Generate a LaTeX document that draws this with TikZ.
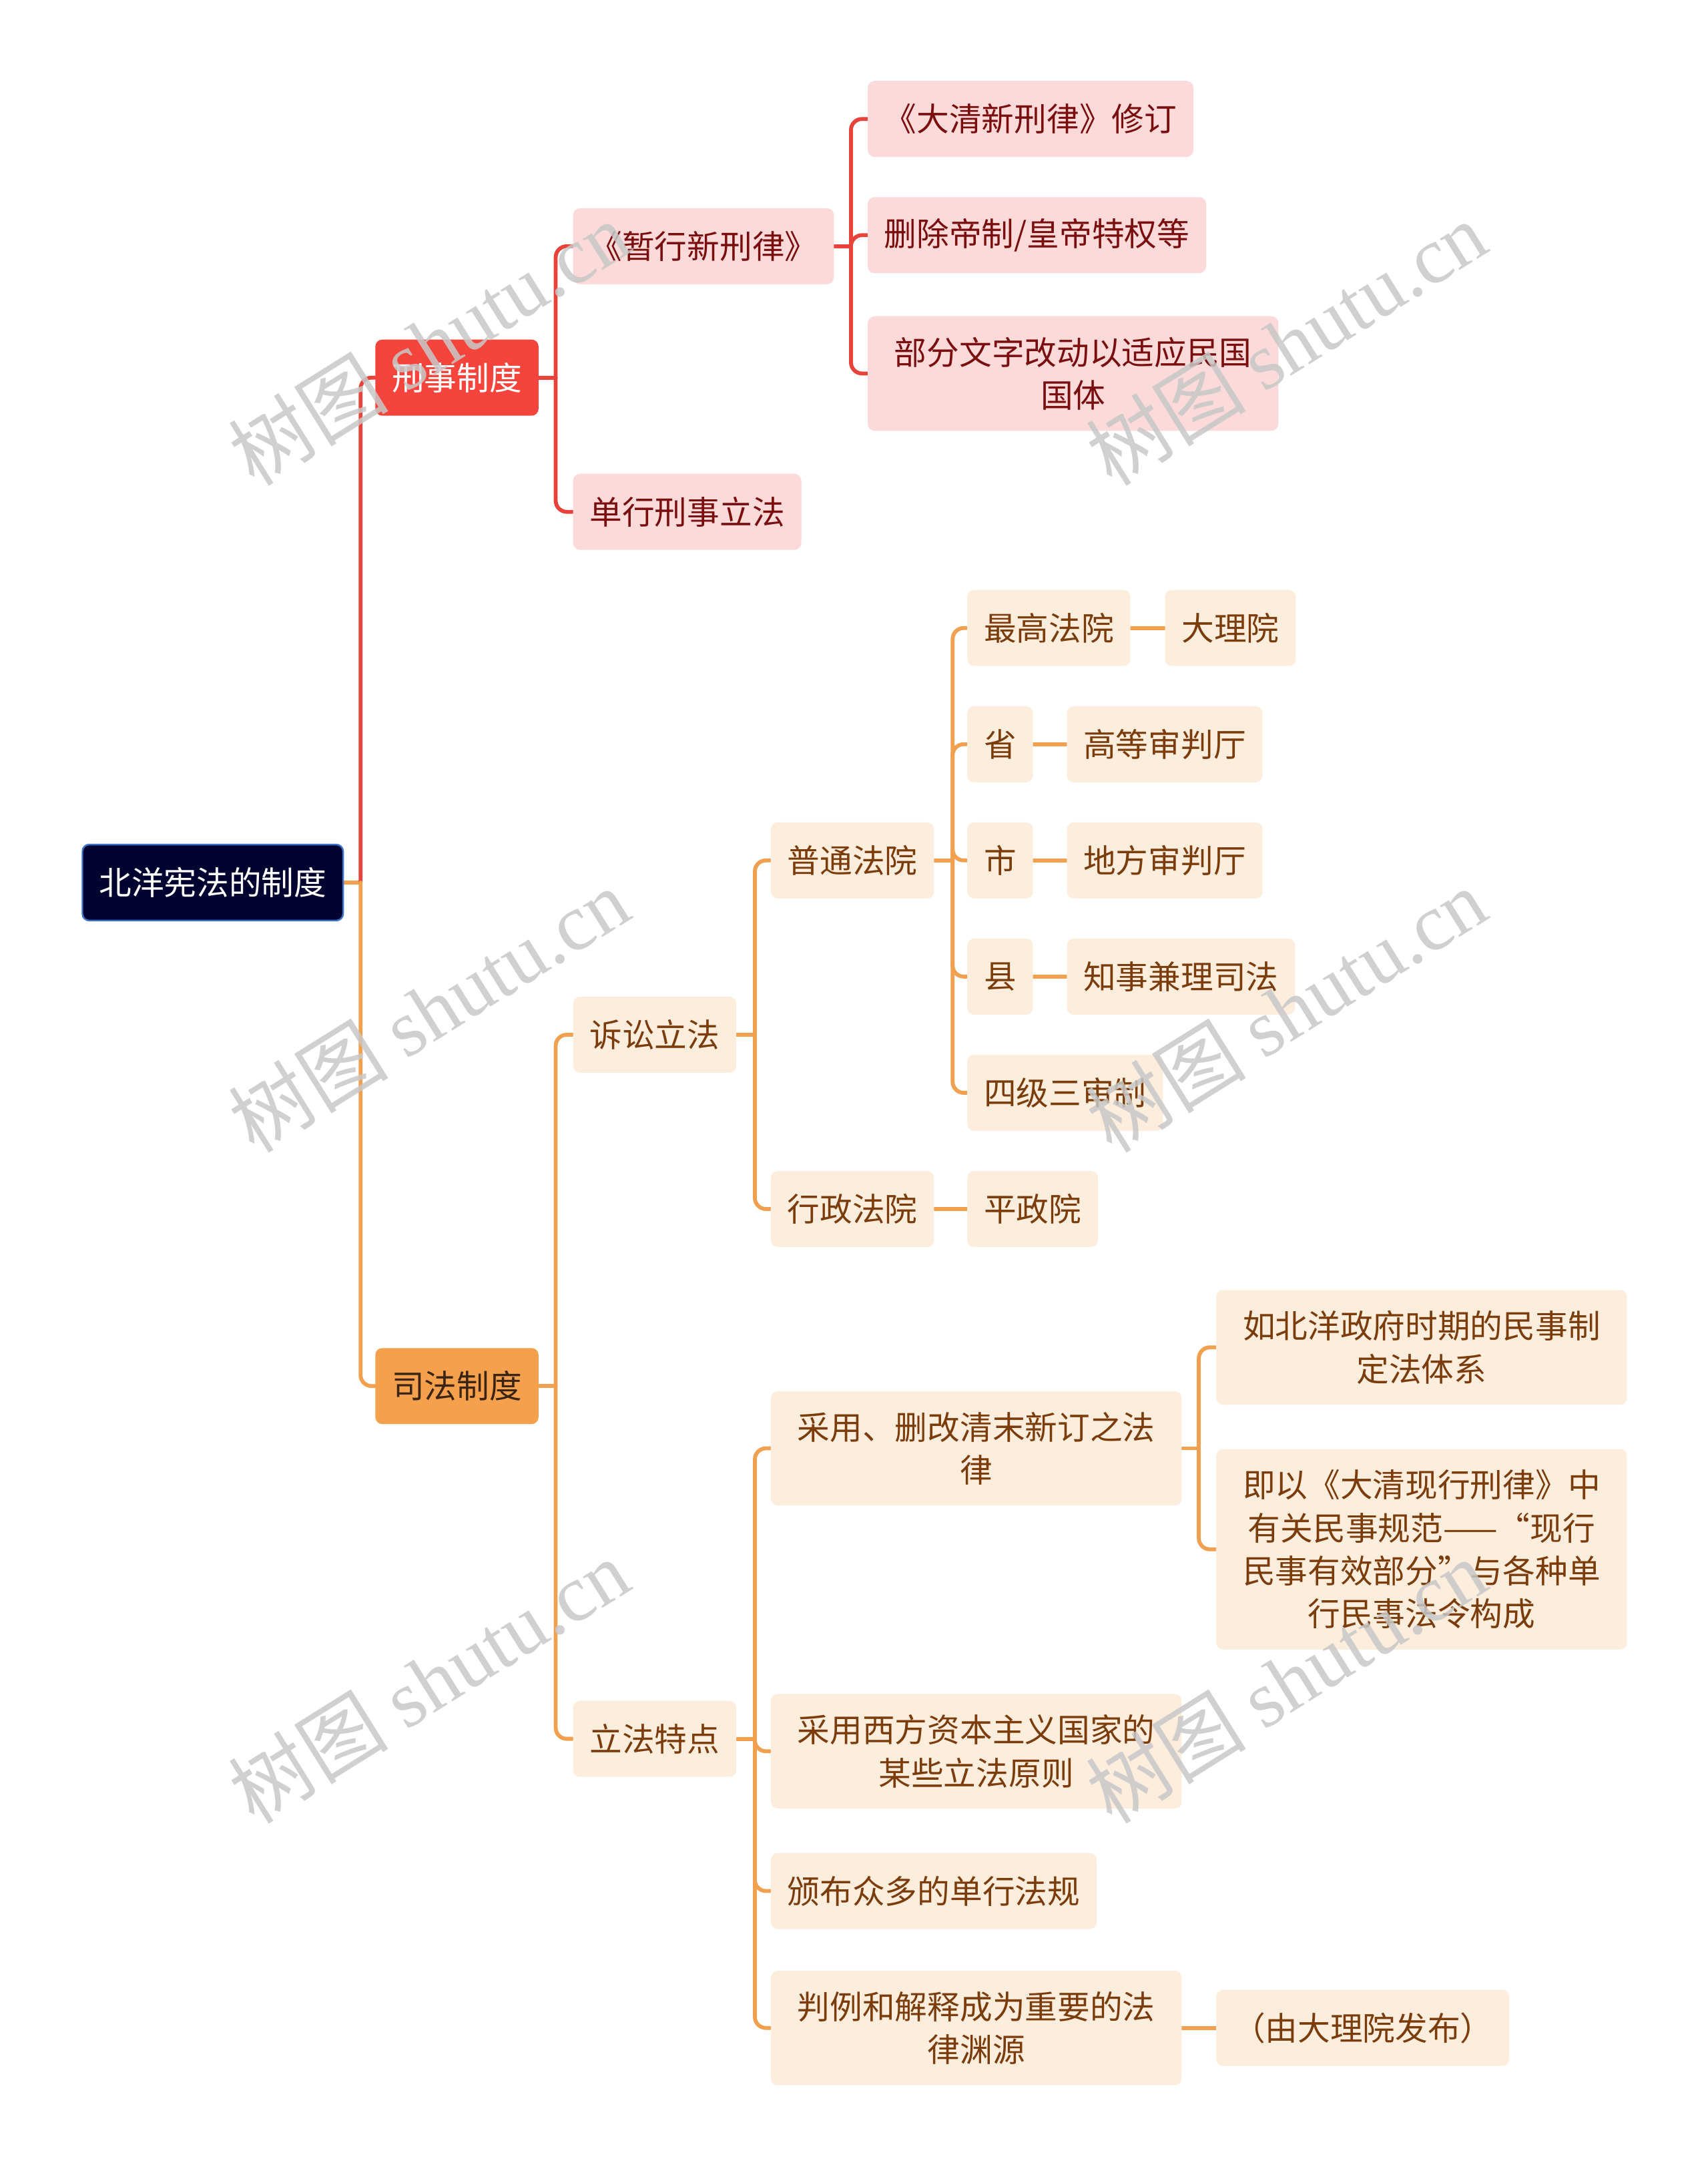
\documentclass[tikz,border=0pt]{standalone}
\usepackage{fontspec}
\setmainfont{Noto Sans CJK SC}
\newfontfamily\wmserif{Liberation Serif}
\usetikzlibrary{backgrounds}
\definecolor{rootfill}{HTML}{020230}
\definecolor{rootborder}{HTML}{3F72C6}
\definecolor{redmain}{HTML}{F5443B}
\definecolor{redline}{HTML}{E8433B}
\definecolor{redlight}{HTML}{FDDADA}
\definecolor{redtext}{HTML}{7A0E0E}
\definecolor{orgmain}{HTML}{F5A04D}
\definecolor{orgline}{HTML}{F0A04E}
\definecolor{orglight}{HTML}{FDEDDD}
\definecolor{orgtext}{HTML}{7B3C0B}
\definecolor{sifatext}{HTML}{3A2515}
\definecolor{wmgray}{HTML}{C8C8C8}
\tikzset{
  box/.style={anchor=west, rounded corners=2.5pt, inner xsep=6pt, inner ysep=7.5pt,
    minimum height=27.5pt, font=\fontsize{11.75}{15.5}\selectfont, align=center},
  wd/.style={minimum width=#1*0.5pt},
  tw/.style={text width=#1*0.5pt},
  rootbox/.style={box, fill=rootfill, draw=rootborder, line width=0.6pt, text=white},
  redbig/.style={box, fill=redmain, text=white},
  orgbig/.style={box, fill=orgmain, text=sifatext},
  redsub/.style={box, fill=redlight, text=redtext},
  orgsub/.style={box, fill=orglight, text=orgtext},
  conn/.style={line width=1.4pt, rounded corners=4pt, line cap=round},
  rl/.style={conn, draw=redline},
  ol/.style={conn, draw=orgline},
  wm/.style={text=wmgray, opacity=0.85, font=\fontsize{29}{30}\selectfont, rotate=32}
}
\begin{document}
\begin{tikzpicture}[x=0.5pt, y=-0.5pt]
\useasboundingbox (0,0) rectangle (1235,1568);

% nodes
\node[rootbox, wd=187] (root) at (59,638) {北洋宪法的制度};
\node[redbig, wd=118] (xs) at (271,273) {刑事制度};
\node[orgbig, wd=118] (sf) at (271,1002) {司法制度};

\node[redsub, wd=188] (zx) at (414,178) {《暂行新刑律》};
\node[redsub] (dx) at (414,370) {单行刑事立法};
\node[redsub] (dq) at (627,86) {《大清新刑律》修订};
\node[redsub] (sc) at (627,170) {删除帝制/皇帝特权等};
\node[redsub, tw=273] (bf) at (627,270) {部分文字改动以适应民国\\国体};

\node[orgsub] (ss) at (414,748) {诉讼立法};
\node[orgsub] (lf) at (414,1257) {立法特点};
\node[orgsub] (pt) at (557,622) {普通法院};
\node[orgsub] (xz) at (557,874) {行政法院};
\node[orgsub] (zg) at (699,454) {最高法院};
\node[orgsub] (dl) at (842,454) {大理院};
\node[orgsub] (sheng) at (699,538) {省};
\node[orgsub] (gd) at (771,538) {高等审判厅};
\node[orgsub] (shi) at (699,622) {市};
\node[orgsub] (df) at (771,622) {地方审判厅};
\node[orgsub] (xian) at (699,706) {县};
\node[orgsub] (zs) at (771,706) {知事兼理司法};
\node[orgsub] (sj) at (699,790) {四级三审制};
\node[orgsub] (pz) at (699,874) {平政院};

\node[orgsub, tw=273] (cy) at (557,1047) {采用、删改清末新订之法\\律};
\node[orgsub, tw=273] (bb) at (879,974) {如北洋政府时期的民事制\\定法体系};
\node[orgsub, tw=273] (jy) at (879,1120) {即以《大清现行刑律》中\\有关民事规范——“现行\\民事有效部分”与各种单\\行民事法令构成};
\node[orgsub, tw=273] (xf) at (557,1266) {采用西方资本主义国家的\\某些立法原则};
\node[orgsub] (bbz) at (557,1367) {颁布众多的单行法规};
\node[orgsub, tw=273] (pl) at (557,1466) {判例和解释成为重要的法\\律渊源};
\node[orgsub, wd=210] (yd) at (879,1466) {（由大理院发布）};

% connectors
\begin{scope}[on background layer]
\fill[white] (0,0) rectangle (1235,1568);
\path (root.east) ++(12,0) coordinate (jroot);
\draw[ol] (root.east) -- (jroot);
\draw[rl] (jroot) |- (xs.west);
\draw[ol] (jroot) |- (sf.west);

\path (xs.east) ++(12,0) coordinate (jxs);
\draw[rl] (xs.east) -- (jxs);
\draw[rl] (jxs) |- (zx.west);
\draw[rl] (jxs) |- (dx.west);

\path (zx.east) ++(12,0) coordinate (jzx);
\draw[rl] (zx.east) -- (jzx);
\draw[rl] (jzx) |- (dq.west);
\draw[rl] (jzx) |- (sc.west);
\draw[rl] (jzx) |- (bf.west);

\path (sf.east) ++(12,0) coordinate (jsf);
\draw[ol] (sf.east) -- (jsf);
\draw[ol] (jsf) |- (ss.west);
\draw[ol] (jsf) |- (lf.west);

\path (ss.east) ++(13,0) coordinate (jss);
\draw[ol] (ss.east) -- (jss);
\draw[ol] (jss) |- (pt.west);
\draw[ol] (jss) |- (xz.west);

\path (pt.east) ++(13,0) coordinate (jpt);
\draw[ol] (pt.east) -- (jpt);
\draw[ol] (jpt) |- (zg.west);
\draw[ol] (jpt) |- (sheng.west);
\draw[ol] (jpt) |- (shi.west);
\draw[ol] (jpt) |- (xian.west);
\draw[ol] (jpt) |- (sj.west);

\draw[ol] (zg.east) -- (dl.west);
\draw[ol] (sheng.east) -- (gd.west);
\draw[ol] (shi.east) -- (df.west);
\draw[ol] (xian.east) -- (zs.west);
\draw[ol] (xz.east) -- (pz.west);

\path (lf.east) ++(13,0) coordinate (jlf);
\draw[ol] (lf.east) -- (jlf);
\draw[ol] (jlf) |- (cy.west);
\draw[ol] (jlf) |- (xf.west);
\draw[ol] (jlf) |- (bbz.west);
\draw[ol] (jlf) |- (pl.west);

\path (cy.east) ++(12,0) coordinate (jcy);
\draw[ol] (cy.east) -- (jcy);
\draw[ol] (jcy) |- (bb.west);
\draw[ol] (jcy) |- (jy.west);

\draw[ol] (pl.east) -- (yd.west);
\end{scope}

% watermarks
\node[wm] (wm1) at (310,248) {树图 {\wmserif shutu.cn}};
\node[wm] (wm2) at (930,248) {树图 {\wmserif shutu.cn}};
\node[wm] (wm3) at (310,730) {树图 {\wmserif shutu.cn}};
\node[wm] (wm4) at (930,730) {树图 {\wmserif shutu.cn}};
\node[wm] (wm5) at (310,1215) {树图 {\wmserif shutu.cn}};
\node[wm] (wm6) at (930,1215) {树图 {\wmserif shutu.cn}};
\end{tikzpicture}
\end{document}
